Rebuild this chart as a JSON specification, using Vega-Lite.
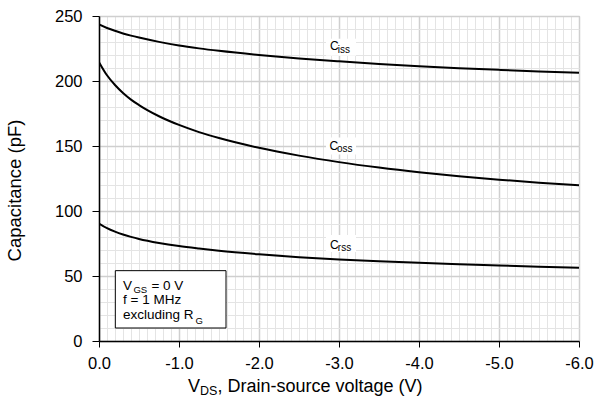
{
  "$schema": "https://vega.github.io/schema/vega-lite/v6.json",
  "width": 480,
  "height": 325,
  "autosize": {"type": "none"},
  "padding": {"left": 99, "top": 16, "right": 17, "bottom": 59},
  "config": {
    "view": {"stroke": "#000000", "strokeWidth": 1},
    "font": "Liberation Sans",
    "text": {"font": "Liberation Sans", "color": "#000000"}
  },
  "datasets": {
    "curves": [
      {"series": "Ciss", "v": 0, "c": 243.5},
      {"series": "Ciss", "v": -0.1, "c": 240.8},
      {"series": "Ciss", "v": -0.2, "c": 238.6},
      {"series": "Ciss", "v": -0.3, "c": 236.6},
      {"series": "Ciss", "v": -0.4, "c": 234.9},
      {"series": "Ciss", "v": -0.5, "c": 233.4},
      {"series": "Ciss", "v": -0.75, "c": 230.1},
      {"series": "Ciss", "v": -1, "c": 227.3},
      {"series": "Ciss", "v": -1.25, "c": 225.1},
      {"series": "Ciss", "v": -1.5, "c": 223.2},
      {"series": "Ciss", "v": -2, "c": 220},
      {"series": "Ciss", "v": -2.5, "c": 217.3},
      {"series": "Ciss", "v": -3, "c": 215.1},
      {"series": "Ciss", "v": -3.5, "c": 213.1},
      {"series": "Ciss", "v": -4, "c": 211.4},
      {"series": "Ciss", "v": -4.5, "c": 209.9},
      {"series": "Ciss", "v": -5, "c": 208.6},
      {"series": "Ciss", "v": -5.5, "c": 207.4},
      {"series": "Ciss", "v": -6, "c": 206.3},
      {"series": "Coss", "v": 0, "c": 214.5},
      {"series": "Coss", "v": -0.1, "c": 204.4},
      {"series": "Coss", "v": -0.2, "c": 196.9},
      {"series": "Coss", "v": -0.3, "c": 190.8},
      {"series": "Coss", "v": -0.4, "c": 185.7},
      {"series": "Coss", "v": -0.5, "c": 181.5},
      {"series": "Coss", "v": -0.75, "c": 172.9},
      {"series": "Coss", "v": -1, "c": 166.2},
      {"series": "Coss", "v": -1.25, "c": 160.7},
      {"series": "Coss", "v": -1.5, "c": 156.1},
      {"series": "Coss", "v": -2, "c": 148.6},
      {"series": "Coss", "v": -2.5, "c": 142.6},
      {"series": "Coss", "v": -3, "c": 137.6},
      {"series": "Coss", "v": -3.5, "c": 133.4},
      {"series": "Coss", "v": -4, "c": 129.8},
      {"series": "Coss", "v": -4.5, "c": 126.7},
      {"series": "Coss", "v": -5, "c": 124.1},
      {"series": "Coss", "v": -5.5, "c": 121.8},
      {"series": "Coss", "v": -6, "c": 119.8},
      {"series": "Crss", "v": 0, "c": 90.4},
      {"series": "Crss", "v": -0.1, "c": 86.8},
      {"series": "Crss", "v": -0.2, "c": 84.1},
      {"series": "Crss", "v": -0.3, "c": 81.9},
      {"series": "Crss", "v": -0.4, "c": 80.1},
      {"series": "Crss", "v": -0.5, "c": 78.5},
      {"series": "Crss", "v": -0.75, "c": 75.4},
      {"series": "Crss", "v": -1, "c": 73},
      {"series": "Crss", "v": -1.25, "c": 71.1},
      {"series": "Crss", "v": -1.5, "c": 69.4},
      {"series": "Crss", "v": -2, "c": 66.7},
      {"series": "Crss", "v": -2.5, "c": 64.5},
      {"series": "Crss", "v": -3, "c": 62.7},
      {"series": "Crss", "v": -3.5, "c": 61.3},
      {"series": "Crss", "v": -4, "c": 60.1},
      {"series": "Crss", "v": -4.5, "c": 59.1},
      {"series": "Crss", "v": -5, "c": 58.1},
      {"series": "Crss", "v": -5.5, "c": 57.2},
      {"series": "Crss", "v": -6, "c": 56.3}
    ],
    "labelBg": [
      {"series": "Ciss", "v": -3.025, "c": 226},
      {"series": "Coss", "v": -3.025, "c": 150},
      {"series": "Crss", "v": -3.025, "c": 75}
    ],
    "box": [
      {"v": -0.204, "v2": -1.5875, "c": 54.1, "c2": 10}
    ],
    "texts": [
      {"role": "curveMain", "t": "C", "v": -2.8875, "c": 223.8},
      {"role": "curveSub", "t": "iss", "v": -2.985, "c": 221.5},
      {"role": "curveMain", "t": "C", "v": -2.88, "c": 146.9},
      {"role": "curveSub", "t": "oss", "v": -2.975, "c": 145.4},
      {"role": "curveMain", "t": "C", "v": -2.8875, "c": 70.5},
      {"role": "curveSub", "t": "rss", "v": -2.985, "c": 69.5},
      {"role": "boxMain", "t": "V", "v": -0.3, "c": 39.2},
      {"role": "boxSub", "t": "GS", "v": -0.43, "c": 37.3},
      {"role": "boxMain", "t": "= 0 V", "v": -0.655, "c": 39.2},
      {"role": "boxMain", "t": "f = 1 MHz", "v": -0.3, "c": 28.1},
      {"role": "boxMain", "t": "excluding R", "v": -0.3, "c": 16.9},
      {"role": "boxSub", "t": "G", "v": -1.205, "c": 12.8},
      {"role": "titleMain", "t": "V", "v": -1.1125, "c": -39.2},
      {"role": "titleSub", "t": "DS", "v": -1.2625, "c": -41.2},
      {"role": "titleMain", "t": ", Drain-source voltage (V)", "v": -1.48, "c": -39.2}
    ]
  },
  "resolve": {"axis": {"x": "independent", "y": "independent"}},
  "layer": [
    {
      "data": {"name": "curves"},
      "mark": {"type": "line", "color": "#000000", "strokeWidth": 2, "interpolate": "monotone", "clip": true},
      "encoding": {
        "x": {
          "field": "v", "type": "quantitative",
          "scale": {"domain": [0, -6], "nice": false, "zero": false},
          "axis": {
            "orient": "bottom", "title": null, "labels": false, "ticks": false, "domain": false,
            "grid": true, "gridColor": "#e4e4e4", "gridWidth": 1,
            "values": [0, -0.1, -0.2, -0.3, -0.4, -0.5, -0.6, -0.7, -0.8, -0.9, -1, -1.1, -1.2, -1.3, -1.4, -1.5, -1.6, -1.7, -1.8, -1.9, -2, -2.1, -2.2, -2.3, -2.4, -2.5, -2.6, -2.7, -2.8, -2.9, -3, -3.1, -3.2, -3.3, -3.4, -3.5, -3.6, -3.7, -3.8, -3.9, -4, -4.1, -4.2, -4.3, -4.4, -4.5, -4.6, -4.7, -4.8, -4.9, -5, -5.1, -5.2, -5.3, -5.4, -5.5, -5.6, -5.7, -5.8, -5.9, -6]
          }
        },
        "y": {
          "field": "c", "type": "quantitative",
          "scale": {"domain": [0, 250], "nice": false},
          "axis": {
            "orient": "left", "title": null, "labels": false, "ticks": false, "domain": false,
            "grid": true, "gridColor": "#e4e4e4", "gridWidth": 1,
            "values": [0, 10, 20, 30, 40, 50, 60, 70, 80, 90, 100, 110, 120, 130, 140, 150, 160, 170, 180, 190, 200, 210, 220, 230, 240, 250]
          }
        },
        "detail": {"field": "series"}
      }
    },
    {
      "data": {"name": "labelBg"},
      "mark": {"type": "point", "filled": true, "color": "#ffffff", "opacity": 1, "size": 900, "shape": "M-1,-0.567H1V0.567H-1Z"},
      "encoding": {
        "x": {
          "field": "v", "type": "quantitative",
          "axis": {
            "orient": "bottom", "title": null,
            "values": [0, -1, -2, -3, -4, -5, -6],
            "labelExpr": "replace(format(datum.value, '.1f'), '\u2212', '-')",
            "labelFlush": false, "labelOverlap": false,
            "labelFont": "Liberation Sans", "labelFontSize": 16.5, "labelColor": "#000000",
            "labelPadding": 8, "tickSize": 6, "tickColor": "#000000", "tickWidth": 1,
            "domainColor": "#000000", "domainWidth": 1.5,
            "grid": true, "gridColor": "#cfcfcf", "gridWidth": 1.5
          }
        },
        "y": {
          "field": "c", "type": "quantitative",
          "axis": {
            "orient": "left",
            "title": "Capacitance (pF)", "titleFont": "Liberation Sans", "titleFontSize": 18.5,
            "titleFontWeight": "normal", "titleColor": "#000000", "titleX": -75, "titleY": 174,
            "values": [0, 50, 100, 150, 200, 250],
            "labelFlush": false, "labelOverlap": false,
            "labelFont": "Liberation Sans", "labelFontSize": 16.5, "labelColor": "#000000",
            "labelPadding": 10, "tickSize": 7, "tickColor": "#000000", "tickWidth": 1,
            "domainColor": "#000000", "domainWidth": 1.5,
            "grid": true, "gridColor": "#cfcfcf", "gridWidth": 1.5
          }
        }
      }
    },
    {
      "data": {"name": "box"},
      "mark": {"type": "rect", "fill": "#ffffff", "stroke": "#000000", "strokeWidth": 1},
      "encoding": {
        "x": {"field": "v", "type": "quantitative", "axis": null},
        "x2": {"field": "v2"},
        "y": {"field": "c", "type": "quantitative", "axis": null},
        "y2": {"field": "c2"}
      }
    },
    {
      "data": {"name": "texts"},
      "transform": [{"filter": "datum.role === 'curveMain'"}],
      "mark": {"type": "text", "align": "left", "baseline": "alphabetic", "fontSize": 12},
      "encoding": {
        "x": {"field": "v", "type": "quantitative", "axis": null},
        "y": {"field": "c", "type": "quantitative", "axis": null},
        "text": {"field": "t"}
      }
    },
    {
      "data": {"name": "texts"},
      "transform": [{"filter": "datum.role === 'curveSub'"}],
      "mark": {"type": "text", "align": "left", "baseline": "alphabetic", "fontSize": 10},
      "encoding": {
        "x": {"field": "v", "type": "quantitative", "axis": null},
        "y": {"field": "c", "type": "quantitative", "axis": null},
        "text": {"field": "t"}
      }
    },
    {
      "data": {"name": "texts"},
      "transform": [{"filter": "datum.role === 'boxMain'"}],
      "mark": {"type": "text", "align": "left", "baseline": "alphabetic", "fontSize": 13.5},
      "encoding": {
        "x": {"field": "v", "type": "quantitative", "axis": null},
        "y": {"field": "c", "type": "quantitative", "axis": null},
        "text": {"field": "t"}
      }
    },
    {
      "data": {"name": "texts"},
      "transform": [{"filter": "datum.role === 'boxSub'"}],
      "mark": {"type": "text", "align": "left", "baseline": "alphabetic", "fontSize": 9.5},
      "encoding": {
        "x": {"field": "v", "type": "quantitative", "axis": null},
        "y": {"field": "c", "type": "quantitative", "axis": null},
        "text": {"field": "t"}
      }
    },
    {
      "data": {"name": "texts"},
      "transform": [{"filter": "datum.role === 'titleMain'"}],
      "mark": {"type": "text", "align": "left", "baseline": "alphabetic", "fontSize": 18},
      "encoding": {
        "x": {"field": "v", "type": "quantitative", "axis": null},
        "y": {"field": "c", "type": "quantitative", "axis": null},
        "text": {"field": "t"}
      }
    },
    {
      "data": {"name": "texts"},
      "transform": [{"filter": "datum.role === 'titleSub'"}],
      "mark": {"type": "text", "align": "left", "baseline": "alphabetic", "fontSize": 12.5},
      "encoding": {
        "x": {"field": "v", "type": "quantitative", "axis": null},
        "y": {"field": "c", "type": "quantitative", "axis": null},
        "text": {"field": "t"}
      }
    }
  ]
}
